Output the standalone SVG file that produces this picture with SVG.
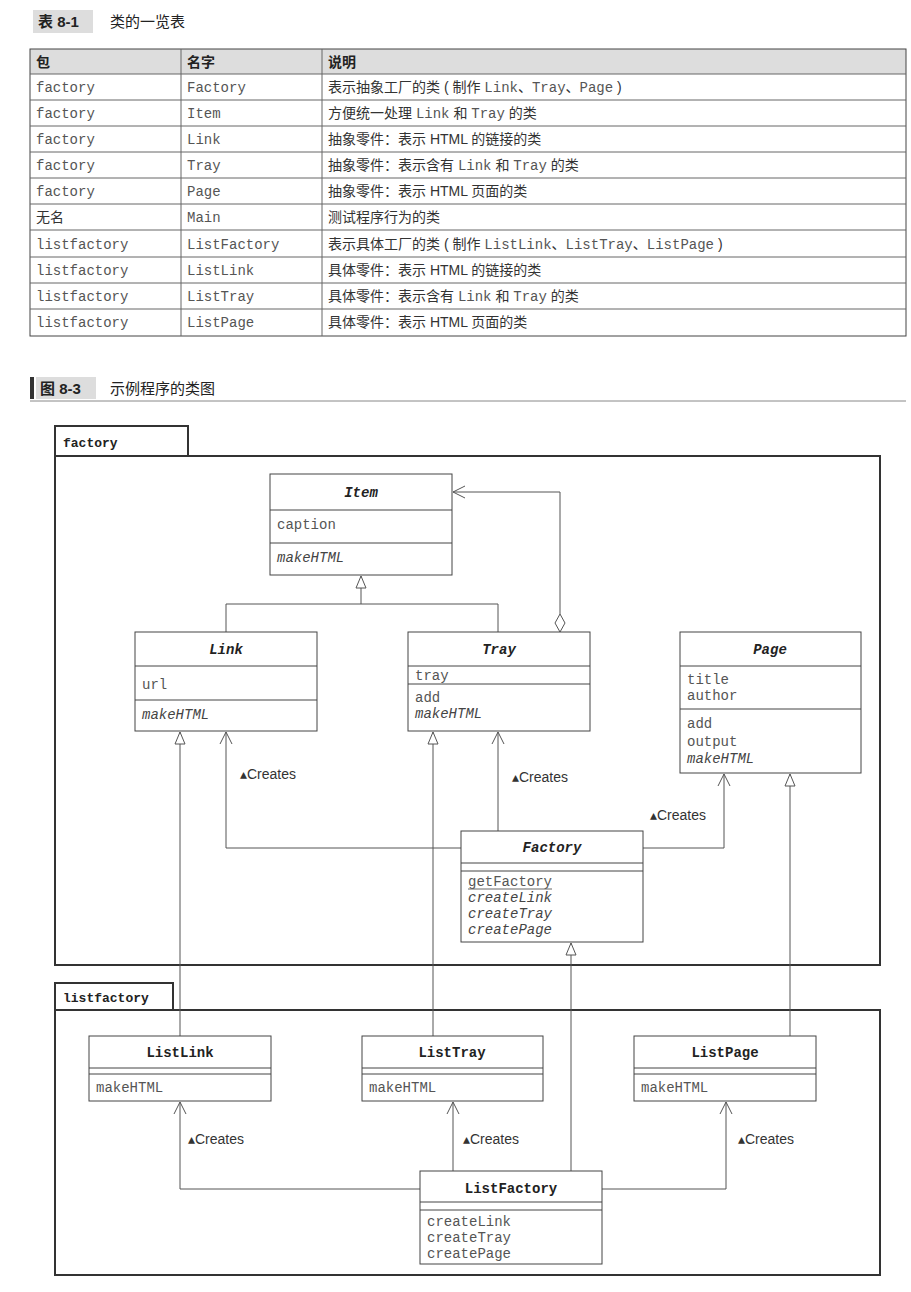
<svg xmlns="http://www.w3.org/2000/svg" width="911" height="1292" viewBox="0 0 911 1292">
<defs>
<style>
.m{font-family:"Liberation Mono",monospace;font-size:14px;fill:#555}
.mi{font-family:"Liberation Mono",monospace;font-size:14px;fill:#444;font-style:italic}
.t{font-family:"Liberation Mono",monospace;font-size:14px;fill:#222;font-weight:bold;text-anchor:middle}
.ti{font-family:"Liberation Mono",monospace;font-size:14px;fill:#222;font-weight:bold;font-style:italic;text-anchor:middle}
.cj{font-family:"Liberation Sans","Noto Sans CJK SC",sans-serif;font-size:14px;fill:#333}
.cj tspan{font-family:"Liberation Mono",monospace;fill:#555}
.h{font-family:"Liberation Sans","Noto Sans CJK SC",sans-serif;font-size:15px;fill:#222;font-weight:bold}
.cr{font-family:"Liberation Sans",sans-serif;font-size:14px;fill:#333}
.b{fill:#fff;stroke:#444;stroke-width:1}
.l{fill:none;stroke:#555;stroke-width:1}
.pk{fill:none;stroke:#333;stroke-width:2}
</style>
<marker id="tri" markerWidth="14" markerHeight="12" refX="0" refY="0" orient="auto" viewBox="-13 -6 14 12" markerUnits="userSpaceOnUse">
<path d="M0,0 L-12,-5 L-12,5 Z" fill="#fff" stroke="#555"/>
</marker>
<marker id="op" markerWidth="14" markerHeight="14" refX="0" refY="0" viewBox="-13 -7 14 14" orient="auto" markerUnits="userSpaceOnUse">
<path d="M-12,-6 L0,0 L-12,6" fill="none" stroke="#555"/>
</marker>
</defs>
<rect width="911" height="1292" fill="#fff"/>

<g id="table">
<rect x="33" y="10" width="60" height="23" fill="#ddd"/>
<text x="38" y="27" class="h">表 8-1</text>
<text x="110" y="27" class="h" style="font-weight:normal">类的一览表</text>
<rect x="30" y="49" width="876" height="25" fill="#ddd"/>
<rect x="30" y="49" width="876" height="287" fill="none" stroke="#444"/>
<g stroke="#666">
<line x1="181" y1="49" x2="181" y2="336"/><line x1="322" y1="49" x2="322" y2="336"/>
<line x1="30" y1="74" x2="906" y2="74"/><line x1="30" y1="100" x2="906" y2="100"/><line x1="30" y1="126" x2="906" y2="126"/><line x1="30" y1="152" x2="906" y2="152"/><line x1="30" y1="178" x2="906" y2="178"/><line x1="30" y1="204" x2="906" y2="204"/><line x1="30" y1="230" x2="906" y2="230"/><line x1="30" y1="257" x2="906" y2="257"/><line x1="30" y1="283" x2="906" y2="283"/><line x1="30" y1="309" x2="906" y2="309"/>
</g>
<text x="36" y="67" class="h" style="font-size:14px">包</text><text x="187" y="67" class="h" style="font-size:14px">名字</text><text x="328" y="67" class="h" style="font-size:14px">说明</text>
<g class="m">
<text x="36" y="92">factory</text><text x="187" y="92">Factory</text>
<text x="36" y="118">factory</text><text x="187" y="118">Item</text>
<text x="36" y="144">factory</text><text x="187" y="144">Link</text>
<text x="36" y="170">factory</text><text x="187" y="170">Tray</text>
<text x="36" y="196">factory</text><text x="187" y="196">Page</text>
<text x="187" y="222">Main</text>
<text x="36" y="249">listfactory</text><text x="187" y="249">ListFactory</text>
<text x="36" y="275">listfactory</text><text x="187" y="275">ListLink</text>
<text x="36" y="301">listfactory</text><text x="187" y="301">ListTray</text>
<text x="36" y="327">listfactory</text><text x="187" y="327">ListPage</text>
</g>
<text x="36" y="222" class="cj">无名</text>
<text x="328" y="92" class="cj">表示抽象工厂的类 ( 制作 <tspan>Link</tspan>、<tspan>Tray</tspan>、<tspan>Page</tspan> )</text>
<text x="328" y="118" class="cj">方便统一处理 <tspan>Link</tspan> 和 <tspan>Tray</tspan> 的类</text>
<text x="328" y="144" class="cj">抽象零件：表示 HTML 的链接的类</text>
<text x="328" y="170" class="cj">抽象零件：表示含有 <tspan>Link</tspan> 和 <tspan>Tray</tspan> 的类</text>
<text x="328" y="196" class="cj">抽象零件：表示 HTML 页面的类</text>
<text x="328" y="222" class="cj">测试程序行为的类</text>
<text x="328" y="249" class="cj">表示具体工厂的类 ( 制作 <tspan>ListLink</tspan>、<tspan>ListTray</tspan>、<tspan>ListPage</tspan> )</text>
<text x="328" y="275" class="cj">具体零件：表示 HTML 的链接的类</text>
<text x="328" y="301" class="cj">具体零件：表示含有 <tspan>Link</tspan> 和 <tspan>Tray</tspan> 的类</text>
<text x="328" y="327" class="cj">具体零件：表示 HTML 页面的类</text>
</g>

<g id="figtitle">
<rect x="30" y="377" width="4" height="22" fill="#333"/>
<rect x="36" y="377" width="60" height="22" fill="#ddd"/>
<text x="40" y="394" class="h">图 8-3</text>
<text x="110" y="394" class="h" style="font-weight:normal">示例程序的类图</text>
<line x1="30" y1="401" x2="906" y2="401" stroke="#888"/>
</g>

<g id="pkg-factory">
<path d="M55,456 V426 H188 V456" class="pk"/>
<rect x="55" y="456" width="825" height="509" class="pk"/>
<text x="63" y="447" class="t" style="text-anchor:start;font-size:13px">factory</text>
</g>
<g id="pkg-listfactory">
<path d="M55,1010 V983 H173 V1010" class="pk"/>
<rect x="55" y="1010" width="825" height="265" class="pk"/>
<text x="63" y="1002" class="t" style="text-anchor:start;font-size:13px">listfactory</text>
</g>

<g id="connectors">
<path d="M226,632 V604 H498 V632" class="l"/>
<line x1="361" y1="604" x2="361" y2="576" class="l" marker-end="url(#tri)"/>
<path d="M560,632 L555,623 L560,614 L565,623 Z" fill="#fff" stroke="#555"/>
<path d="M560,614 V492 H453" class="l" marker-end="url(#op)"/>
<path d="M461,848 H226 V732" class="l" marker-end="url(#op)"/>
<path d="M498,831 V732" class="l" marker-end="url(#op)"/>
<path d="M643,848 H724 V774" class="l" marker-end="url(#op)"/>
<path d="M180,1036 V732" class="l" marker-end="url(#tri)"/>
<path d="M433,1036 V732" class="l" marker-end="url(#tri)"/>
<path d="M790,1036 V774" class="l" marker-end="url(#tri)"/>
<path d="M571,1171 V943" class="l" marker-end="url(#tri)"/>
<path d="M420,1189 H180 V1102" class="l" marker-end="url(#op)"/>
<path d="M453,1171 V1102" class="l" marker-end="url(#op)"/>
<path d="M602,1189 H726 V1102" class="l" marker-end="url(#op)"/>
<text x="240" y="779" class="cr">▴Creates</text>
<text x="512" y="782" class="cr">▴Creates</text>
<text x="650" y="820" class="cr">▴Creates</text>
<text x="188" y="1144" class="cr">▴Creates</text>
<text x="463" y="1144" class="cr">▴Creates</text>
<text x="738" y="1144" class="cr">▴Creates</text>
</g>

<g id="Item">
<rect x="270" y="474" width="182" height="101" class="b"/>
<line x1="270" y1="510" x2="452" y2="510" stroke="#444"/><line x1="270" y1="543" x2="452" y2="543" stroke="#444"/>
<text x="361" y="497" class="ti">Item</text>
<text x="277" y="529" class="m">caption</text>
<text x="277" y="562" class="mi">makeHTML</text>
</g>
<g id="Link">
<rect x="135" y="632" width="182" height="99" class="b"/>
<line x1="135" y1="666" x2="317" y2="666" stroke="#444"/><line x1="135" y1="700" x2="317" y2="700" stroke="#444"/>
<text x="226" y="654" class="ti">Link</text>
<text x="142" y="689" class="m">url</text>
<text x="142" y="719" class="mi">makeHTML</text>
</g>
<g id="Tray">
<rect x="408" y="632" width="182" height="99" class="b"/>
<line x1="408" y1="666" x2="590" y2="666" stroke="#444"/><line x1="408" y1="684" x2="590" y2="684" stroke="#444"/>
<text x="499" y="654" class="ti">Tray</text>
<text x="415" y="680" class="m">tray</text>
<text x="415" y="702" class="m">add</text>
<text x="415" y="718" class="mi">makeHTML</text>
</g>
<g id="Page">
<rect x="680" y="632" width="181" height="141" class="b"/>
<line x1="680" y1="666" x2="861" y2="666" stroke="#444"/><line x1="680" y1="709" x2="861" y2="709" stroke="#444"/>
<text x="770" y="654" class="ti">Page</text>
<text x="687" y="684" class="m">title</text>
<text x="687" y="700" class="m">author</text>
<text x="687" y="728" class="m">add</text>
<text x="687" y="746" class="m">output</text>
<text x="687" y="763" class="mi">makeHTML</text>
</g>
<g id="Factory">
<rect x="461" y="831" width="182" height="111" class="b"/>
<line x1="461" y1="863" x2="643" y2="863" stroke="#444"/><line x1="461" y1="871" x2="643" y2="871" stroke="#444"/>
<text x="552" y="852" class="ti">Factory</text>
<text x="468" y="886" class="m">getFactory</text>
<line x1="468" y1="889" x2="552" y2="889" stroke="#666"/>
<text x="468" y="902" class="mi">createLink</text>
<text x="468" y="918" class="mi">createTray</text>
<text x="468" y="934" class="mi">createPage</text>
</g>
<g id="ListLink">
<rect x="89" y="1036" width="182" height="65" class="b"/>
<line x1="89" y1="1068" x2="271" y2="1068" stroke="#444"/><line x1="89" y1="1074" x2="271" y2="1074" stroke="#444"/>
<text x="180" y="1057" class="t">ListLink</text>
<text x="96" y="1092" class="m">makeHTML</text>
</g>
<g id="ListTray">
<rect x="362" y="1036" width="181" height="65" class="b"/>
<line x1="362" y1="1068" x2="543" y2="1068" stroke="#444"/><line x1="362" y1="1074" x2="543" y2="1074" stroke="#444"/>
<text x="452" y="1057" class="t">ListTray</text>
<text x="369" y="1092" class="m">makeHTML</text>
</g>
<g id="ListPage">
<rect x="634" y="1036" width="182" height="65" class="b"/>
<line x1="634" y1="1068" x2="816" y2="1068" stroke="#444"/><line x1="634" y1="1074" x2="816" y2="1074" stroke="#444"/>
<text x="725" y="1057" class="t">ListPage</text>
<text x="641" y="1092" class="m">makeHTML</text>
</g>
<g id="ListFactory">
<rect x="420" y="1171" width="182" height="93" class="b"/>
<line x1="420" y1="1202" x2="602" y2="1202" stroke="#444"/><line x1="420" y1="1210" x2="602" y2="1210" stroke="#444"/>
<text x="511" y="1193" class="t">ListFactory</text>
<text x="427" y="1226" class="m">createLink</text>
<text x="427" y="1242" class="m">createTray</text>
<text x="427" y="1258" class="m">createPage</text>
</g>
</svg>
